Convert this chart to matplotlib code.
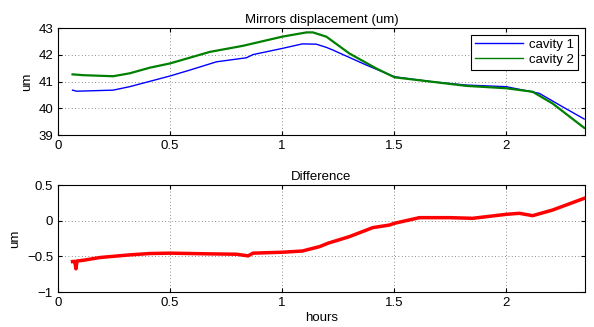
import matplotlib.pyplot as plt

plt.rcParams['font.family'] = ['Liberation Sans', 'DejaVu Sans']
plt.rcParams['font.size'] = 9.5

# cavity 1 (blue)
t1 = [0.065, 0.083, 0.246, 0.32, 0.5, 0.588, 0.707, 0.84, 0.87, 1.0, 1.09,
      1.152, 1.197, 1.226, 1.375, 1.501, 1.672, 1.82, 1.999, 2.147, 2.25, 2.347]
c1 = [40.68, 40.64, 40.68, 40.81, 41.21, 41.43, 41.74, 41.89, 42.01, 42.24, 42.41,
      42.40, 42.28, 42.18, 41.62, 41.18, 40.99, 40.87, 40.81, 40.56, 40.06, 39.6]

# cavity 2 (green)
t2 = [0.065, 0.113, 0.246, 0.32, 0.41, 0.5, 0.677, 0.826, 1.0, 1.108, 1.137,
      1.197, 1.30, 1.42, 1.501, 1.672, 1.82, 2.0, 2.117, 2.206, 2.347]
c2 = [41.27, 41.24, 41.2, 41.31, 41.52, 41.68, 42.11, 42.34, 42.68, 42.84, 42.84,
      42.68, 42.05, 41.49, 41.16, 40.99, 40.84, 40.75, 40.62, 40.18, 39.27]

# difference (red)
td = [0.065, 0.075, 0.08, 0.085, 0.113, 0.187, 0.32, 0.41, 0.5, 0.677, 0.796, 0.848,
      0.87, 1.0, 1.09, 1.167, 1.204, 1.30, 1.404, 1.479, 1.501, 1.612, 1.746, 1.85,
      2.0, 2.058, 2.117, 2.206, 2.347]
dd = [-0.573, -0.57, -0.675, -0.565, -0.555, -0.516, -0.479, -0.46, -0.455, -0.465, -0.47, -0.493,
      -0.455, -0.442, -0.425, -0.363, -0.316, -0.223, -0.097, -0.06, -0.036, 0.043, 0.043, 0.034,
      0.09, 0.104, 0.071, 0.15, 0.314]

fig = plt.figure(figsize=(5.94, 3.27), dpi=100)
ax1 = fig.add_axes([0.0976, 0.587, 0.887, 0.327])
ax2 = fig.add_axes([0.0976, 0.107, 0.887, 0.327])

ax1.plot(t1, c1, color=(0, 0, 1), lw=1.0, label='cavity 1')
ax1.plot(t2, c2, color=(0, 0.5, 0), lw=1.6, label='cavity 2')
ax1.set_xlim(0, 2.35)
ax1.set_ylim(39, 43)
ax1.set_yticks([39, 40, 41, 42, 43])
ax1.set_ylabel('um', labelpad=4)
ax1.set_title('Mirrors displacement (um)', fontsize=9.5, pad=4)
leg = ax1.legend(loc='upper right', fancybox=False, framealpha=1,
                 edgecolor='black', handlelength=3.6, borderaxespad=0.5,
                 borderpad=0.3, labelspacing=0.2, handletextpad=0.5)
leg.get_frame().set_linewidth(0.8)
for ln in leg.get_lines():
    ln.set_linewidth(1.0)

ax2.plot(td, dd, color=(1, 0, 0), lw=2.5)
ax2.set_xlim(0, 2.35)
ax2.set_ylim(-1, 0.5)
ax2.set_yticks([-1, -0.5, 0, 0.5])
ax2.set_yticklabels(['\u22121', '\u22120.5', '0', '0.5'])
ax2.set_ylabel('um', labelpad=4)
ax2.set_xlabel('hours', labelpad=2)
ax2.set_title('Difference', fontsize=9.5, pad=4)

for ax in (ax1, ax2):
    ax.set_xticks([0, 0.5, 1, 1.5, 2])
    ax.set_xticklabels(['0', '0.5', '1', '1.5', '2'])
    ax.grid(True, color='black', linestyle=(0, (1, 3)), linewidth=0.6, alpha=0.6)
    ax.tick_params(direction='in', top=True, right=True, length=3, labelsize=9.5)
    for s in ax.spines.values():
        s.set_linewidth(0.8)

fig.savefig('out.png', dpi=100)
